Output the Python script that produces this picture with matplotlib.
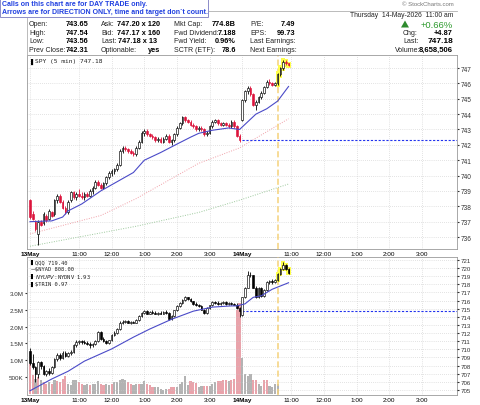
import numpy as np
import matplotlib
matplotlib.use("Agg")
import matplotlib.pyplot as plt
from matplotlib.patches import Rectangle, Polygon
from matplotlib.lines import Line2D

plt.rcParams['font.family'] = ['Liberation Sans', 'DejaVu Sans']

# ---------------- data ----------------
hour_ticks = [18, 30, 42, 54, 66, 96, 108, 120, 132, 144]
hour_labels = ['11:00', '12:00', '1:00', '2:00', '3:00',
               '11:00', '12:00', '1:00', '2:00', '3:00']
day_ticks = [0, 78]
day_labels = ['13May', '14May']

spy_open = [738.4, 737.5, 737.0, 736.2, 737.0, 736.9, 737.4, 737.2, 737.6, 737.5,
            738.4, 738.7, 738.3, 737.9, 737.6, 738.4, 738.9, 738.6, 738.8, 738.7,
            738.6, 738.8, 738.7, 739.0, 739.2, 739.6, 739.4, 739.2, 739.5, 739.9,
            740.2, 740.3, 740.4, 740.7, 741.6, 741.8, 741.7, 741.6, 741.5, 741.4,
            741.8, 742.2, 742.8, 742.9, 742.7, 742.6, 742.5, 742.3, 742.4, 742.2,
            742.4, 742.6, 742.2, 742.3, 742.7, 743.1, 743.4, 743.8, 743.6, 743.5,
            743.3, 743.2, 743.0, 743.1, 743.0, 742.7, 742.8, 743.2, 743.5, 743.6,
            743.4, 743.3, 743.4, 743.3, 743.2, 743.5, 743.2, 742.6,
            743.65, 744.9, 745.5, 745.7, 745.3, 744.6, 744.8, 745.1, 745.4, 745.75,
            746.1, 746.0, 745.9, 746.0, 746.6, 747.0, 747.4, 747.3]
spy_high = [738.5, 737.7, 737.1, 737.1, 737.1, 737.6, 737.5, 737.8, 737.7, 738.5,
            738.8, 738.8, 738.4, 738.0, 738.4, 739.0, 739.0, 738.9, 739.1, 738.9,
            738.9, 738.9, 739.1, 739.3, 739.7, 739.7, 739.5, 739.6, 740.0, 740.3,
            740.4, 740.5, 740.8, 741.7, 741.9, 741.9, 741.8, 741.7, 741.6, 741.9,
            742.3, 742.9, 743.0, 743.0, 742.8, 742.7, 742.6, 742.5, 742.5, 742.5,
            742.7, 742.7, 742.4, 742.8, 743.2, 743.5, 743.9, 743.9, 743.7, 743.6,
            743.4, 743.3, 743.2, 743.2, 743.1, 742.9, 743.3, 743.6, 743.7, 743.7,
            743.5, 743.5, 743.5, 743.4, 743.6, 743.6, 743.3, 742.7,
            745.0, 745.6, 745.85, 745.8, 745.4, 744.9, 745.2, 745.5, 745.8, 746.2,
            746.3, 746.1, 746.1, 746.7, 747.1, 747.54, 747.5, 747.3]
spy_low = [737.2, 737.1, 736.4, 735.5, 736.7, 736.8, 737.0, 737.1, 737.3, 737.4,
           738.2, 738.2, 737.8, 737.5, 737.5, 738.3, 738.5, 738.4, 738.6, 738.5,
           738.4, 738.6, 738.6, 738.8, 739.1, 739.3, 739.1, 739.1, 739.4, 739.8,
           740.0, 740.1, 740.3, 740.6, 741.5, 741.6, 741.5, 741.4, 741.3, 741.3,
           741.7, 742.1, 742.6, 742.6, 742.5, 742.4, 742.2, 742.2, 742.1, 742.1,
           742.3, 742.1, 742.0, 742.2, 742.6, 743.0, 743.3, 743.5, 743.4, 743.2,
           743.1, 742.9, 742.9, 742.9, 742.6, 742.6, 742.7, 743.1, 743.4, 743.3,
           743.2, 743.2, 743.2, 743.1, 743.1, 743.1, 742.5, 742.2,
           743.56, 744.8, 745.3, 745.2, 744.5, 744.3, 744.7, 745.0, 745.3, 745.7,
           745.9, 745.8, 745.8, 745.9, 746.5, 746.9, 747.2, 747.15]
spy_close = [737.3, 737.2, 736.5, 737.0, 736.8, 737.5, 737.1, 737.7, 737.4, 738.4,
             738.7, 738.3, 737.9, 737.6, 738.3, 738.9, 738.6, 738.8, 738.7, 738.6,
             738.8, 738.7, 739.0, 739.2, 739.6, 739.4, 739.2, 739.5, 739.9, 740.2,
             740.3, 740.4, 740.7, 741.6, 741.8, 741.7, 741.6, 741.5, 741.4, 741.8,
             742.2, 742.8, 742.9, 742.7, 742.6, 742.5, 742.3, 742.4, 742.2, 742.4,
             742.6, 742.2, 742.3, 742.7, 743.1, 743.4, 743.8, 743.6, 743.5, 743.3,
             743.2, 743.0, 743.1, 743.0, 742.7, 742.8, 743.2, 743.5, 743.6, 743.4,
             743.3, 743.4, 743.3, 743.2, 743.5, 743.2, 742.6, 742.31,
             744.9, 745.5, 745.7, 745.3, 744.6, 744.8, 745.1, 745.4, 745.75, 746.1,
             746.0, 745.9, 746.0, 746.6, 747.0, 747.4, 747.3, 747.18]

spy_ma_x = [0, 8, 12, 14, 19, 26, 32, 38, 42, 48, 54, 59, 62, 67, 73, 77, 80, 83, 87, 91, 95]
spy_ma_y = [737.0, 737.05, 737.3, 737.7, 738.15, 739.0, 739.6, 740.2, 741.0, 741.5, 742.05,
            742.5, 742.75, 742.95, 743.1, 743.0, 743.5, 744.0, 744.35, 744.85, 745.8]
spy_ma2_x = [0, 26, 39, 44, 62, 77, 95]
spy_ma2_y = [736.2, 737.4, 738.5, 739.0, 740.8, 741.8, 743.7]
spy_ma3_x = [0, 39, 62, 77, 95]
spy_ma3_y = [735.4, 736.7, 737.6, 738.4, 739.45]
spy_prev_close = 742.31

qqq_open = [709.8, 708.3, 707.8, 707.0, 708.4, 708.0, 707.0, 707.3, 707.1, 707.8,
            708.8, 709.3, 708.9, 709.6, 709.2, 709.5, 709.7, 710.5, 710.9, 711.0,
            710.9, 710.8, 710.7, 710.5, 710.6, 711.0, 712.1, 711.3, 711.0, 710.8,
            711.1, 711.8, 712.0, 712.5, 713.3, 713.4, 713.5, 713.3, 713.4, 713.3,
            713.6, 714.1, 714.5, 714.7, 714.4, 714.6, 714.5, 714.4, 714.5, 714.4,
            714.6, 714.5, 713.7, 714.1, 714.8, 715.3, 715.7, 716.1, 716.4, 716.2,
            715.9, 715.6, 715.4, 715.3, 714.9, 714.5, 715.1, 715.4, 715.8, 715.7,
            715.6, 715.7, 715.8, 715.6, 715.7, 715.6, 715.5, 715.1,
            714.2, 716.4, 717.6, 719.2, 719.1, 717.6, 716.5, 717.5, 716.6, 717.3,
            718.3, 718.4, 718.3, 718.5, 719.3, 719.9, 720.4, 719.9]
qqq_high = [710.2, 709.4, 708.0, 708.6, 708.6, 708.1, 707.5, 707.7, 707.9, 708.9,
            709.5, 709.5, 709.8, 709.8, 709.7, 709.9, 710.7, 711.1, 711.2, 711.2,
            711.1, 711.0, 710.9, 710.8, 711.1, 712.3, 712.2, 711.5, 711.2, 711.2,
            711.9, 712.2, 712.6, 713.5, 713.6, 713.6, 713.6, 713.5, 713.5, 713.7,
            714.2, 714.6, 714.9, 714.8, 714.7, 714.8, 714.7, 714.6, 714.7, 714.7,
            714.8, 714.6, 714.2, 714.9, 715.4, 715.8, 716.2, 716.6, 716.5, 716.3,
            716.0, 715.8, 715.6, 715.4, 715.0, 715.2, 715.5, 715.9, 716.0, 715.9,
            715.8, 715.9, 715.9, 715.8, 715.8, 715.7, 715.7, 715.2,
            716.5, 717.7, 719.6, 719.5, 719.2, 717.8, 717.7, 717.7, 717.4, 718.4,
            718.5, 718.6, 718.6, 719.4, 720.0, 720.7, 720.5, 720.0]
qqq_low = [708.1, 707.6, 706.0, 706.5, 707.6, 706.8, 706.7, 706.9, 707.0, 707.7,
           708.6, 708.7, 708.8, 709.0, 709.0, 709.3, 709.6, 710.3, 710.6, 710.7,
           710.6, 710.5, 710.2, 710.3, 710.5, 710.9, 711.2, 710.9, 710.6, 710.6,
           711.0, 711.6, 711.9, 712.4, 713.1, 713.2, 713.2, 713.1, 713.2, 713.2,
           713.5, 714.0, 714.4, 714.3, 714.3, 714.4, 714.3, 714.2, 714.3, 714.3,
           714.4, 713.6, 713.6, 714.0, 714.7, 715.2, 715.6, 716.0, 716.1, 715.8,
           715.5, 715.3, 715.2, 714.8, 714.4, 714.4, 715.0, 715.3, 715.6, 715.5,
           715.5, 715.6, 715.5, 715.5, 715.5, 715.4, 715.0, 714.0,
           714.1, 716.3, 717.5, 718.9, 717.5, 716.3, 716.3, 716.4, 716.5, 717.2,
           718.1, 718.1, 718.2, 718.4, 719.2, 719.8, 719.8, 719.3]
qqq_close = [708.3, 707.8, 707.0, 708.4, 708.0, 707.0, 707.3, 707.1, 707.8, 708.8,
             709.3, 708.9, 709.6, 709.2, 709.5, 709.7, 710.5, 710.9, 711.0, 710.9,
             710.8, 710.7, 710.5, 710.6, 711.0, 712.1, 711.3, 711.0, 710.8, 711.1,
             711.8, 712.0, 712.5, 713.3, 713.4, 713.5, 713.3, 713.4, 713.3, 713.6,
             714.1, 714.5, 714.7, 714.4, 714.6, 714.5, 714.4, 714.5, 714.4, 714.6,
             714.5, 713.7, 714.1, 714.8, 715.3, 715.7, 716.1, 716.4, 716.2, 715.9,
             715.6, 715.4, 715.3, 714.9, 714.5, 715.1, 715.4, 715.8, 715.7, 715.6,
             715.7, 715.8, 715.6, 715.7, 715.6, 715.5, 715.1, 714.7,
             716.4, 717.6, 719.2, 719.1, 717.6, 716.5, 717.5, 716.6, 717.3, 718.3,
             718.4, 718.3, 718.5, 719.3, 719.9, 720.4, 719.9, 719.4]
qqq_ma_x = [0, 8, 14, 20, 30, 38, 44, 52, 60, 67, 74, 76, 79, 82, 85, 89, 95]
qqq_ma_y = [704.9, 706.35, 707.3, 708.55, 710.05, 711.5, 712.5, 713.7, 714.7, 715.2,
            715.35, 715.35, 715.6, 716.4, 716.6, 717.4, 718.2]
qqq_prev_close = 714.7

# volume in millions, and whether the bar is a down bar (pink)
volume_m = [0.89, 0.55, 0.45, 0.50, 0.40, 0.35, 0.30, 0.35, 0.30, 0.40,
            0.38, 0.35, 0.45, 0.54, 0.30, 0.25, 0.40, 0.40, 0.35, 0.30,
            0.25, 0.30, 0.25, 0.30, 0.30, 0.39, 0.30, 0.25, 0.30, 0.25,
            0.30, 0.35, 0.35, 0.40, 0.44, 0.40, 0.34, 0.30, 0.25, 0.30,
            0.30, 0.28, 0.37, 0.30, 0.25, 0.21, 0.19, 0.19, 0.14, 0.12,
            0.13, 0.15, 0.20, 0.20, 0.19, 0.29, 0.35, 0.52, 0.25, 0.37,
            0.35, 0.33, 0.19, 0.22, 0.24, 0.24, 0.24, 0.29, 0.34, 0.37,
            0.37, 0.40, 0.42, 0.37, 0.42, 0.45, 2.50, 2.70,
            1.06, 0.60, 0.54, 0.59, 0.42, 0.41, 0.30, 0.24, 0.41, 0.40,
            0.22, 0.19, 0.29, 0.28, 0.0, 0.0, 0.0, 0.0]
volume_down = [1, 1, 0, 1, 0, 1, 1, 0, 1, 0,
               1, 1, 1, 1, 0, 0, 0, 0, 1, 1,
               0, 0, 1, 0, 0, 0, 1, 1, 0, 0,
               1, 0, 0, 0, 0, 0, 1, 1, 0, 0,
               1, 0, 0, 1, 1, 1, 0, 0, 0, 0,
               0, 1, 1, 1, 0, 0, 0, 0, 0, 1,
               1, 1, 0, 0, 1, 1, 0, 0, 0, 1,
               1, 1, 1, 0, 1, 1, 1, 1,
               0, 0, 0, 0, 1, 1, 0, 0, 1, 1,
               0, 0, 0, 0, 0, 0, 0, 0]
highlight_from = 91
marker_x = 91.2

# ---------------- figure ----------------
W, H = 480, 406
fig = plt.figure(figsize=(4.8, 4.06), dpi=100)
fig.patch.set_facecolor('white')


def fx(px):
    return px / W


def fy(py):
    return 1 - py / H


def ftext(px, py, s, **kw):
    kw.setdefault('va', 'center')
    kw.setdefault('fontsize', 5)
    return fig.text(fx(px), fy(py), s, **kw)


XLIM = (-1.1, 156.9)
RED = '#dc143c'
GRID = dict(color='#c8c8c8', linestyle=(0, (1, 2)), linewidth=0.5)
SPINE = '#9a9a9a'


def draw_candles(ax, o, h, l, c, colors, width=0.62):
    x = np.arange(len(c))
    ax.vlines(x, l, h, colors=colors, linewidth=0.6, zorder=4)
    for i in range(len(c)):
        hollow = c[i] >= o[i]
        bottom = min(o[i], c[i])
        height = max(abs(c[i] - o[i]), 0.03)
        ax.add_patch(Rectangle((x[i] - width / 2, bottom), width, height,
                               facecolor='white' if hollow else colors[i],
                               edgecolor=colors[i], linewidth=0.45, zorder=5))


def highlight(ax, h, l, start, pad):
    for i in range(start, len(h)):
        ax.add_patch(Rectangle((i - 0.75, l[i] - pad), 1.5, h[i] - l[i] + 2 * pad,
                               facecolor='#ffff4d', edgecolor='none', zorder=3))


def style_xaxis(ax):
    ax.set_xlim(*XLIM)
    ticks = day_ticks + hour_ticks
    labels = day_labels + hour_labels
    ax.set_xticks(ticks)
    ax.set_xticklabels(labels)
    for k, lab in enumerate(ax.get_xticklabels()):
        if k < len(day_ticks):
            lab.set_fontweight('bold')
            lab.set_fontsize(5.0)
    ax.tick_params(axis='x', length=0, pad=1.6, labelsize=4.6)
    for t in ticks:
        ax.axvline(t, zorder=0, **GRID)


# ---------------- top panel (SPY) ----------------
ax1 = fig.add_axes([fx(27), fy(250), fx(457) - fx(27), fy(56) - fy(250)])
ax1.set_ylim(735.22, 747.85)
style_xaxis(ax1)
yt = list(range(736, 748))
ax1.set_yticks(yt)
ax1.yaxis.tick_right()
ax1.tick_params(axis='y', length=1.5, pad=1, labelsize=4.7, colors='#333333')
for v in yt:
    ax1.axhline(v, zorder=0, **GRID)
for sp in ax1.spines.values():
    sp.set_color(SPINE)
    sp.set_linewidth(0.6)

spy_colors = []
for i in range(len(spy_close)):
    ref = spy_close[i - 1] if i > 0 else spy_open[0]
    spy_colors.append('black' if spy_close[i] >= ref else RED)

ax1.plot(spy_ma3_x, spy_ma3_y, color='#9cc89c', lw=0.7, linestyle=(0, (1, 1.5)), zorder=2)
ax1.plot(spy_ma2_x, spy_ma2_y, color='#f0a0a8', lw=0.7, linestyle=(0, (1, 1.5)), zorder=2)
ax1.plot(spy_ma_x, spy_ma_y, color='#4a4ac8', lw=0.8, zorder=6)
highlight(ax1, spy_high, spy_low, highlight_from, 0.12)
draw_candles(ax1, spy_open, spy_high, spy_low, spy_close, spy_colors)
ax1.hlines(spy_prev_close, 78, XLIM[1], colors='#2233ee', linestyles=(0, (2, 1.5)),
           linewidth=0.8, zorder=3)
ax1.axvline(marker_x, color='#f5d27a', linestyle=(0, (4, 2)), linewidth=1.1, zorder=2)

# ---------------- bottom panel (QQQ + volume) ----------------
ax2 = fig.add_axes([fx(27), fy(396), fx(457) - fx(27), fy(258) - fy(396)])
ax2.set_ylim(-0.036, 4.07)
style_xaxis(ax2)
vcols = ['#e9a3ab' if d else '#b3b3b3' for d in volume_down]
ax2.bar(np.arange(len(volume_m)), volume_m, width=0.8, color=vcols, zorder=1)
ax2.set_yticks([0.5, 1.0, 1.5, 2.0, 2.5, 3.0])
ax2.set_yticklabels(['500K', '1.0M', '1.5M', '2.0M', '2.5M', '3.0M'])
ax2.tick_params(axis='y', length=1.5, pad=1, labelsize=4.5, colors='#333333')
for sp in ax2.spines.values():
    sp.set_color(SPINE)
    sp.set_linewidth(0.6)

ax3 = ax2.twinx()
ax3.set_xlim(*XLIM)
ax3.set_ylim(704.38, 721.37)
yt2 = list(range(705, 722))
ax3.set_yticks(yt2)
ax3.tick_params(axis='y', length=1.5, pad=1, labelsize=4.4, colors='#333333')
for v in yt2:
    ax3.axhline(v, zorder=0, **GRID)
for sp in ax3.spines.values():
    sp.set_visible(False)
qqq_colors = ['black'] * len(qqq_close)
ax3.plot(qqq_ma_x, qqq_ma_y, color='#4a4ac8', lw=0.8, zorder=6)
highlight(ax3, qqq_high, qqq_low, highlight_from, 0.15)
draw_candles(ax3, qqq_open, qqq_high, qqq_low, qqq_close, qqq_colors)
ax3.hlines(qqq_prev_close, 78, XLIM[1], colors='#2233ee', linestyles=(0, (2, 1.5)),
           linewidth=0.8, zorder=3)
ax3.axvline(marker_x, color='#f5d27a', linestyle=(0, (4, 2)), linewidth=1.1, zorder=2)

# legends inside panels
ftext(30.5, 62, '\u258c', fontsize=4, family='DejaVu Sans')
ftext(35, 62, 'SPY (5 min) 747.18', fontsize=4.5, family='DejaVu Sans Mono', color='#222222')
leg2 = [('\u258c', 'QQQ 719.40'), ('\u2014', '$NYAD 808.00'),
        ('\u258c', '$NYUPV:$NYDNV 1.93'), ('\u258c', '$TRIN 0.97')]
for k, (ic, s) in enumerate(leg2):
    yy = 262.5 + k * 7.2
    ftext(30.5, yy, ic, fontsize=3.8, family='DejaVu Sans')
    ftext(35, yy, s, fontsize=3.9, family='DejaVu Sans Mono', color='#222222')

# ---------------- header ----------------
fig.add_artist(Line2D([fx(27), fx(457)], [fy(12), fy(12)], color='#b0b0b0', lw=0.6))
fig.add_artist(Line2D([fx(27), fx(27)], [fy(12), fy(56)], color='#b0b0b0', lw=0.6))

rows = [25, 33.3, 41.6, 50]
col1 = ['Open:', 'High:', 'Low:', 'Prev Close:']
val1 = ['743.65', '747.54', '743.56', '742.31']
col2 = ['Ask:', 'Bid:', 'Last:', 'Optionable:']
val2 = ['747.20 x 120', '747.17 x 160', '747.18 x 13', 'yes']
col3 = ['Mkt Cap:', 'Fwd Dividend:', 'Fwd Yield:', 'SCTR (ETF):']
val3 = ['774.8B', '7.188', '0.96%', '78.6']
col4 = ['P/E:', 'EPS:', 'Last Earnings:', 'Next Earnings:']
val4 = ['7.49', '99.73', '', '']
val2_right = [160, 160, 157, 160]
for k, y in enumerate(rows):
    ftext(29, y, col1[k], color='#222222')
    ftext(88, y, val1[k], ha='right', fontweight='bold', fontsize=5.3)
    ftext(101, y, col2[k], color='#222222')
    ftext(val2_right[k], y, val2[k], ha='right', fontweight='bold', fontsize=5.3)
    ftext(174, y, col3[k], color='#222222')
    ftext(236, y, val3[k], ha='right', fontweight='bold', fontsize=5.3)
    ftext(250, y, col4[k], color='#222222')
    if val4[k]:
        ftext(295, y, val4[k], ha='right', fontweight='bold', fontsize=5.3)

ftext(454, 5, '\u00a9 StockCharts.com', ha='right', fontsize=4.3, color='#777777')
ftext(453, 15.5, 'Thursday  14-May-2026  11:00 am', ha='right', fontsize=4.9, color='#222222')
fig.add_artist(Polygon([[fx(401), fy(28.5)], [fx(409), fy(28.5)], [fx(405), fy(21.5)]],
                       closed=True, facecolor='#2e8b2e', edgecolor='none'))
ftext(453, 25, '+0.66%', ha='right', fontsize=6.8, color='#2e9a2e')
ftext(403, 33.3, 'Chg:', color='#222222')
ftext(453, 33.3, '+4.87', ha='right', fontweight='bold', fontsize=5.3)
ftext(403, 41.6, 'Last:', color='#222222')
ftext(453, 41.6, '747.18', ha='right', fontweight='bold', fontsize=6.0)
ftext(395, 50, 'Volume:', color='#222222')
ftext(453, 50, '8,658,506', ha='right', fontweight='bold', fontsize=5.5)

# blue note box
fig.add_artist(Rectangle((0, fy(18)), fx(207.5), fy(0) - fy(18), transform=fig.transFigure,
                         facecolor='white', edgecolor='#8c8cc8', lw=0.7, zorder=10))
ftext(2, 5, 'Calls on this chart are for DAY TRADE only.', fontsize=5.0,
      fontweight='bold', color='#1f3fe0', zorder=11)
ftext(2, 13, "Arrows are for DIRECTION ONLY, time and target don`t count.", fontsize=5.0,
      fontweight='bold', color='#1f3fe0', zorder=11)

fig.savefig('out.png', dpi=100, facecolor='white')
